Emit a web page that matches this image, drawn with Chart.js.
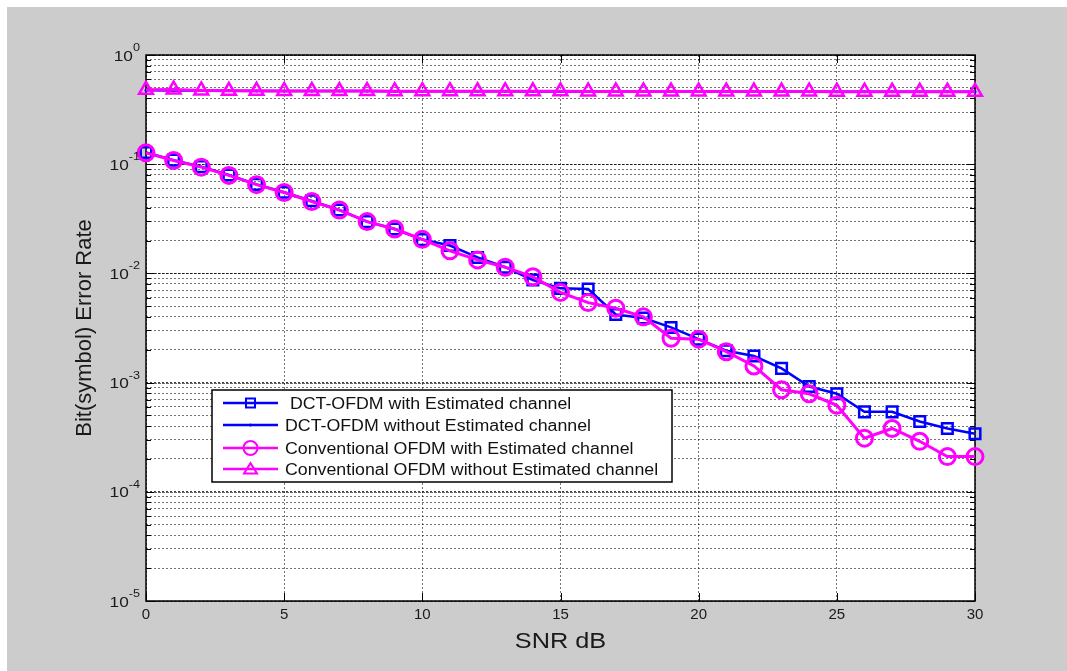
<!DOCTYPE html>
<html>
<head>
<meta charset="utf-8">
<script src="https://cdn.jsdelivr.net/npm/chart.js@4.4.0/dist/chart.umd.min.js"></script>
<style>
  html, body { margin: 0; padding: 0; background: #fff; }
  canvas { display: block; }
</style>
</head>
<body>
<canvas id="berChart" width="1067" height="671"></canvas>
<script>
// SNR values (dB)
const snr = [0, 1, 2, 3, 4, 5, 6, 7, 8, 9, 10, 11, 12, 13, 14, 15, 16, 17, 18, 19, 20, 21, 22, 23, 24, 25, 26, 27, 28, 29, 30];

// error rates
const dctEst = [0.128, 0.109, 0.095, 0.0796, 0.0654, 0.0553, 0.0462, 0.0381, 0.0298, 0.0255, 0.0204, 0.0180, 0.0140, 0.0114, 0.0087,
    0.0073, 0.0072, 0.0042, 0.0039, 0.0032, 0.0025, 0.00196, 0.00175, 0.00135, 0.00092, 0.00079, 0.00054, 0.00054, 0.00044, 0.00038, 0.00034];
const dctNoEst = [0.476, 0.474, 0.472, 0.47, 0.469, 0.468, 0.468, 0.467, 0.467, 0.466, 0.466, 0.465, 0.465, 0.465, 0.464,
    0.464, 0.464, 0.463, 0.463, 0.463, 0.462, 0.462, 0.462, 0.462, 0.461, 0.461, 0.461, 0.461, 0.46, 0.46, 0.46];
const convEst = [0.127, 0.108, 0.094, 0.079, 0.065, 0.055, 0.0455, 0.038, 0.0298, 0.0255, 0.0205, 0.0161, 0.0133, 0.0114, 0.0093,
    0.0067, 0.0054, 0.0048, 0.0040, 0.00255, 0.0025, 0.00192, 0.00142, 0.00086, 0.00079, 0.00062, 0.00031, 0.00038, 0.00029, 0.00021, 0.00021];
const convNoEst = [0.48, 0.482, 0.474, 0.47, 0.47, 0.469, 0.469, 0.468, 0.468, 0.466, 0.466, 0.466, 0.465, 0.465, 0.465,
    0.465, 0.464, 0.464, 0.464, 0.463, 0.463, 0.462, 0.462, 0.462, 0.462, 0.461, 0.461, 0.461, 0.461, 0.461, 0.46];

const seriesLabels = [
    ' DCT-OFDM with Estimated channel',
    'DCT-OFDM without Estimated channel',
    'Conventional OFDM with Estimated channel',
    'Conventional OFDM without Estimated channel'
];

// y axis decades (exponents) and x ticks
const yExponents = [0, -1, -2, -3, -4, -5];
const xTicks = [0, 5, 10, 15, 20, 25, 30];

const BLUE = '#0000ff';
const MAGENTA = '#ff00ff';
const FONT = '"Liberation Sans", Arial, Helvetica, sans-serif';

const toXY = arr => arr.map((v, i) => ({ x: snr[i], y: v }));

function isDecade(v) {
    const l = Math.log10(v);
    return Math.abs(l - Math.round(l)) < 1e-6;
}

// text with a little horizontal stretch like the original figure
function stretchedText(ctx, text, x, y, font, align, sx) {
    ctx.save();
    ctx.font = font;
    ctx.textAlign = align;
    ctx.textBaseline = 'alphabetic';
    ctx.translate(x, y);
    ctx.scale(sx, 1);
    ctx.fillText(text, 0, 0);
    ctx.restore();
}

function drawMarker(ctx, style, x, y, size, color) {
    ctx.save();
    ctx.strokeStyle = color;
    ctx.fillStyle = color;
    ctx.lineWidth = 2;
    ctx.beginPath();
    if (style === 'rect') {
        ctx.rect(x - size / 2, y - size / 2, size, size);
        ctx.stroke();
    } else if (style === 'circle') {
        ctx.arc(x, y, size / 2, 0, Math.PI * 2);
        ctx.stroke();
    } else if (style === 'triangle') {
        ctx.moveTo(x, y - size * 0.45);
        ctx.lineTo(x + size / 2, y + size * 0.35);
        ctx.lineTo(x - size / 2, y + size * 0.35);
        ctx.closePath();
        ctx.stroke();
    } else if (style === 'dot') {
        ctx.arc(x, y, 1.5, 0, Math.PI * 2);
        ctx.fill();
    }
    ctx.restore();
}

const figurePlugin = {
    id: 'figure',
    beforeDraw(chart) {
        const { ctx, chartArea: a } = chart;
        ctx.save();
        ctx.fillStyle = '#ffffff';
        ctx.fillRect(0, 0, chart.width, chart.height);
        ctx.fillStyle = '#cccccc';
        ctx.fillRect(7, 7, chart.width - 7, chart.height - 7);
        ctx.fillStyle = '#ffffff';
        ctx.fillRect(a.left, a.top, a.right - a.left, a.bottom - a.top);
        ctx.restore();
    },
    beforeDatasetsDraw(chart) {
        const { ctx, chartArea: a, scales } = chart;
        ctx.save();
        // decade lines a bit stronger
        ctx.strokeStyle = 'rgba(0,0,0,0.6)';
        ctx.lineWidth = 1;
        ctx.setLineDash([3, 1]);
        yExponents.forEach(e => {
            const py = Math.round(scales.y.getPixelForValue(Math.pow(10, e))) + 0.5;
            ctx.beginPath();
            ctx.moveTo(a.left, py);
            ctx.lineTo(a.right, py);
            ctx.stroke();
        });
        ctx.setLineDash([]);
        // tick marks inside the box
        ctx.strokeStyle = '#000';
        scales.y.ticks.forEach(t => {
            const py = Math.round(scales.y.getPixelForValue(t.value)) + 0.5;
            const len = isDecade(t.value) ? 8 : 5;
            ctx.beginPath();
            ctx.moveTo(a.left, py); ctx.lineTo(a.left + len, py);
            ctx.moveTo(a.right, py); ctx.lineTo(a.right - len, py);
            ctx.stroke();
        });
        xTicks.forEach(v => {
            const px = Math.round(scales.x.getPixelForValue(v)) + 0.5;
            ctx.beginPath();
            ctx.moveTo(px, a.bottom); ctx.lineTo(px, a.bottom - 8);
            ctx.moveTo(px, a.top); ctx.lineTo(px, a.top + 8);
            ctx.stroke();
        });
        // axes box
        ctx.lineWidth = 1.5;
        ctx.strokeRect(a.left, a.top, a.right - a.left, a.bottom - a.top);
        ctx.restore();
    },
    afterDraw(chart) {
        const { ctx, chartArea: a, scales } = chart;
        ctx.save();
        ctx.fillStyle = '#1a1a1a';

        // y tick labels 10^n
        yExponents.forEach(e => {
            const py = scales.y.getPixelForValue(Math.pow(10, e));
            const expText = String(e);
            ctx.font = '11px ' + FONT;
            const expW = ctx.measureText(expText).width * 1.15;
            const right = a.left - 6;
            stretchedText(ctx, expText, right, py - 4, '11px ' + FONT, 'right', 1.15);
            stretchedText(ctx, '10', right - expW, py + 5.5, '15px ' + FONT, 'right', 1.15);
        });

        // axis titles
        stretchedText(ctx, 'SNR dB', (a.left + a.right) / 2, 648, '22px ' + FONT, 'center', 1.15);
        ctx.save();
        ctx.translate(91, (a.top + a.bottom) / 2);
        ctx.rotate(-Math.PI / 2);
        ctx.font = '22px ' + FONT;
        ctx.textAlign = 'center';
        ctx.textBaseline = 'alphabetic';
        ctx.fillText('Bit(symbol) Error Rate', 0, 0);
        ctx.restore();

        // legend box inside the plot
        const box = { x: 212, y: 390, w: 460, h: 92 };
        ctx.fillStyle = '#ffffff';
        ctx.fillRect(box.x, box.y, box.w, box.h);
        ctx.strokeStyle = '#000';
        ctx.lineWidth = 1.5;
        ctx.strokeRect(box.x, box.y, box.w, box.h);

        const legendStyle = [
            { color: BLUE, marker: 'rect', size: 9 },
            { color: BLUE, marker: 'dot', size: 3 },
            { color: MAGENTA, marker: 'circle', size: 14 },
            { color: MAGENTA, marker: 'triangle', size: 13 }
        ];
        const rowY = [403, 425, 448, 469];
        seriesLabels.forEach((label, i) => {
            const st = legendStyle[i];
            ctx.strokeStyle = st.color;
            ctx.lineWidth = 2.5;
            ctx.beginPath();
            ctx.moveTo(223, rowY[i]);
            ctx.lineTo(278, rowY[i]);
            ctx.stroke();
            drawMarker(ctx, st.marker, 250.5, rowY[i], st.size, st.color);
            ctx.fillStyle = '#111';
            stretchedText(ctx, label, 285, rowY[i] + 6, '16px ' + FONT, 'left', 1.11);
        });
        ctx.restore();
    }
};

const datasets = [
    {
        label: seriesLabels[0],
        data: toXY(dctEst),
        borderColor: BLUE,
        borderWidth: 2.5,
        pointStyle: 'rect',
        pointRadius: 7.5,
        pointBorderWidth: 2.5,
        pointBackgroundColor: 'transparent',
        pointBorderColor: BLUE,
        order: 3
    },
    {
        label: seriesLabels[1],
        data: toXY(dctNoEst),
        borderColor: BLUE,
        borderWidth: 2.5,
        pointStyle: 'circle',
        pointRadius: 1.5,
        pointBorderWidth: 0,
        pointBackgroundColor: BLUE,
        order: 2
    },
    {
        label: seriesLabels[2],
        data: toXY(convEst),
        borderColor: MAGENTA,
        borderWidth: 3,
        pointStyle: 'circle',
        pointRadius: 8,
        pointBorderWidth: 3,
        pointBackgroundColor: 'transparent',
        pointBorderColor: MAGENTA,
        order: 1
    },
    {
        label: seriesLabels[3],
        data: toXY(convNoEst),
        borderColor: MAGENTA,
        borderWidth: 3,
        pointStyle: 'triangle',
        pointRadius: 8,
        pointBorderWidth: 2.5,
        pointBackgroundColor: 'transparent',
        pointBorderColor: MAGENTA,
        order: 0
    }
];

new Chart(document.getElementById('berChart'), {
    type: 'line',
    data: { datasets },
    plugins: [figurePlugin],
    options: {
        responsive: false,
        animation: false,
        clip: false,
        layout: { padding: { left: 146, top: 55, right: 92, bottom: 0 } },
        elements: { line: { tension: 0 } },
        plugins: {
            legend: { display: false },
            tooltip: { enabled: false }
        },
        scales: {
            x: {
                type: 'linear',
                min: 0,
                max: 30,
                afterFit: s => { s.height = 70; },
                afterBuildTicks: s => { s.ticks = xTicks.map(v => ({ value: v })); },
                grid: {
                    color: 'rgba(0,0,0,0.55)',
                    lineWidth: 1,
                    drawTicks: false
                },
                border: { display: false, dash: [2, 2] },
                ticks: {
                    padding: 5,
                    color: '#1a1a1a',
                    font: { family: FONT, size: 15 },
                    callback: v => String(v)
                }
            },
            y: {
                type: 'logarithmic',
                min: 1e-5,
                max: 1,
                afterFit: s => { s.width = 0; },
                afterBuildTicks: s => {
                    const t = [];
                    for (let e = -5; e <= 0; e++) {
                        for (let m = 1; m <= 9; m++) {
                            const v = m * Math.pow(10, e);
                            if (v <= 1.0000001) t.push({ value: v });
                        }
                    }
                    s.ticks = t;
                },
                grid: {
                    color: ctx => (ctx.tick && isDecade(ctx.tick.value)) ? 'rgba(0,0,0,0.75)' : 'rgba(0,0,0,0.55)',
                    lineWidth: 1,
                    drawTicks: false
                },
                border: { display: false, dash: [2, 2] },
                ticks: { display: false }
            }
        }
    }
});
</script>
</body>
</html>
